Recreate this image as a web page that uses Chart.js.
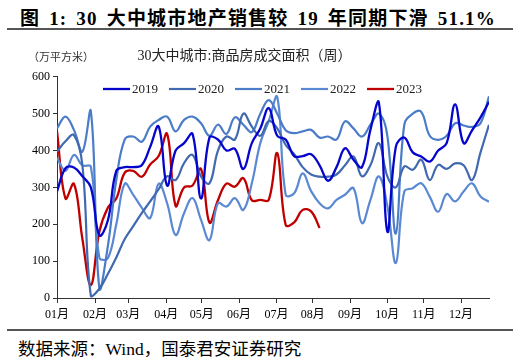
<!DOCTYPE html>
<html lang="zh">
<head>
<meta charset="UTF-8">
<title>30大中城市商品房成交面积（周）</title>
<script src="https://cdn.jsdelivr.net/npm/chart.js"></script>
<style>
  body { margin: 0; width: 513px; height: 358px; background: #fff; position: relative; overflow: hidden;
         font-family: 'Liberation Serif', 'Noto Sans CJK SC', serif; color: #000; }
  #head { position: absolute; left: 20px; top: 3px; font-size: 19px; font-weight: bold; white-space: nowrap;
          letter-spacing: 1.2px; word-spacing: 3px; }
  .rule { position: absolute; left: 7px; right: 0; height: 2px; background: #555; }
  #foot { position: absolute; left: 18px; top: 335px; font-size: 17.5px; white-space: nowrap; }
  #box { position: absolute; left: 0; top: 40px; width: 513px; height: 285px; }
</style>
</head>
<body>
<div id="head">图 1:  30 大中城市地产销售较 19 年同期下滑 51.1%</div>
<div class="rule" style="top:28px"></div>
<div id="box"><canvas id="c" width="513" height="285"></canvas></div>
<div class="rule" style="top:329px"></div>
<div id="foot">数据来源：Wind，国泰君安证券研究</div>

<script>
// week index 0..51, month tick positions (in weeks) and labels
const weeks = Array.from({ length: 52 }, (_, i) => i);
const monthPos = [0, 4.5, 8.4, 12.9, 17.1, 21.5, 25.9, 30.2, 34.6, 39, 43.3, 47.7];
const monthLabels = ['01月', '02月', '03月', '04月', '05月', '06月', '07月', '08月', '09月', '10月', '11月', '12月'];
const yTicks = [0, 100, 200, 300, 400, 500, 600];

// 万平方米, weekly
const s2019 = [289,352,354,330,300,170,210,345,355,355,360,410,465,305,400,420,445,270,435,430,400,405,350,420,460,515,
               440,430,385,385,390,360,318,355,406,375,355,456,530,180,410,435,395,384,370,400,420,525,420,455,490,532];
const s2020 = [397,425,442,360,5,25,65,110,160,195,230,262,295,330,320,366,388,330,311,400,438,430,500,465,440,480,
               460,415,390,355,335,329,329,335,360,384,330,360,420,330,300,357,348,375,320,361,350,365,360,320,395,470];
const s2021 = [460,492,456,397,506,27,140,320,430,438,424,465,483,492,452,483,492,474,440,470,445,490,470,450,500,537,
               500,455,447,452,456,435,438,430,479,460,438,470,500,440,175,470,500,505,440,429,440,474,468,464,474,547];
const s2022 = [380,345,388,360,356,110,108,200,310,280,245,217,310,257,171,230,271,212,157,257,248,271,239,311,420,480,
               545,280,284,338,290,257,243,266,280,298,203,266,330,250,95,289,298,311,275,234,282,262,289,311,275,261];
const s2023 = [452,270,310,160,35,180,245,270,340,345,329,362,385,445,250,300,305,350,205,265,310,302,325,265,266,266,
               393,198,205,239,235,190];

const FONT = "'Liberation Serif', 'Noto Sans CJK SC', serif";

function series(label, data, color, width) {
  return { label, data, borderColor: color, backgroundColor: color, borderWidth: width,
           pointRadius: 0, tension: 0.4, fill: false };
}

// legend drawn as short lines inside the plot, like the original
const lineLegend = {
  id: 'lineLegend',
  afterDraw(chart) {
    const ctx = chart.ctx;
    ctx.save();
    ctx.font = '13px ' + FONT;
    ctx.textBaseline = 'middle';
    let x = 103;
    const y = 49;
    chart.data.datasets.forEach(d => {
      ctx.strokeStyle = d.borderColor;
      ctx.lineWidth = d.borderWidth;
      ctx.beginPath();
      ctx.moveTo(x, y);
      ctx.lineTo(x + 27, y);
      ctx.stroke();
      ctx.fillStyle = '#222';
      ctx.fillText(d.label, x + 29, y + 1);
      x += 29 + ctx.measureText(d.label).width + 11;
    });
    // unit label
    ctx.font = "11px 'Noto Sans CJK SC', sans-serif";
    ctx.fillStyle = '#333';
    ctx.fillText('（万平方米）', 28, 17);
    ctx.restore();
  }
};

new Chart(document.getElementById('c'), {
  type: 'line',
  data: {
    labels: weeks,
    datasets: [
      series('2019', s2019, '#0505CC', 2.3),
      series('2020', s2020, '#4169B0', 2.2),
      series('2021', s2021, '#4A7CC8', 2.2),
      series('2022', s2022, '#5A88D2', 2.2),
      series('2023', s2023, '#C00000', 2.3)
    ]
  },
  options: {
    responsive: false,
    devicePixelRatio: 1,
    animation: false,
    layout: { padding: { left: 0, right: 24, top: 0, bottom: 0 } },
    plugins: {
      legend: { display: false },
      tooltip: { enabled: false },
      title: {
        display: true,
        text: '30大中城市:商品房成交面积（周）',
        color: '#222',
        font: { family: FONT, size: 14, weight: 'normal' },
        padding: { top: 8, bottom: 12 }
      }
    },
    scales: {
      x: {
        type: 'linear', min: 0, max: 51,
        afterBuildTicks: s => { s.ticks = monthPos.map(v => ({ value: v })); },
        afterFit: s => { s.height = 27; },
        ticks: { autoSkip: false, maxRotation: 0, padding: 5, color: '#000',
                 font: { family: FONT, size: 12 },
                 callback: (v, i) => monthLabels[i] },
        grid: { drawOnChartArea: false, drawTicks: true, tickLength: 5, color: '#333' },
        border: { display: true, color: '#333', width: 1 }
      },
      y: {
        min: 0, max: 600,
        afterBuildTicks: s => { s.ticks = yTicks.map(v => ({ value: v })); },
        afterFit: s => { s.width = 57; },
        ticks: { padding: 3, color: '#000', font: { family: FONT, size: 12 } },
        grid: { drawOnChartArea: false, drawTicks: true, tickLength: 4, color: '#333' },
        border: { display: true, color: '#333', width: 1 }
      }
    }
  },
  plugins: [lineLegend]
});
</script>
</body>
</html>
